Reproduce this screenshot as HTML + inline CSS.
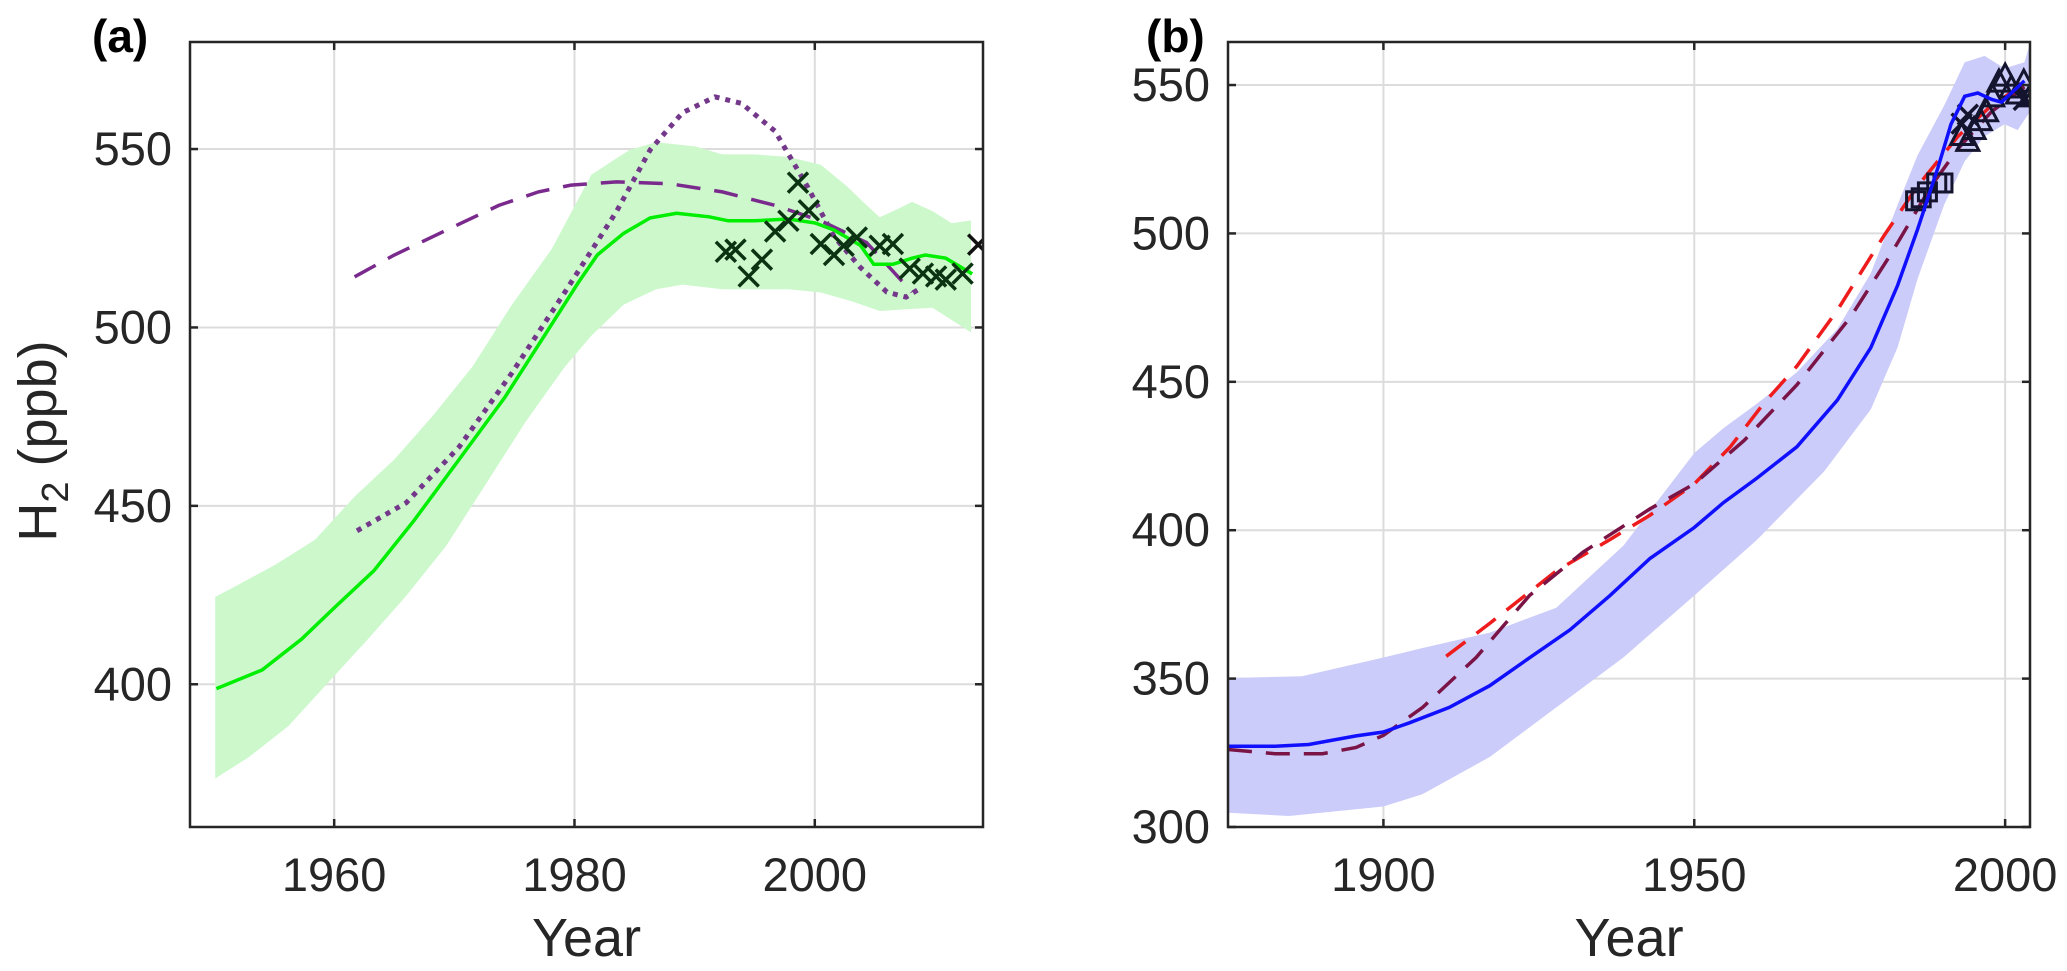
<!DOCTYPE html>
<html><head><meta charset="utf-8"><style>
body{margin:0;background:#fff;}
svg{display:block;font-family:"Liberation Sans",Arial,sans-serif;}
</style></head><body>
<svg id="chart" width="2067" height="971" viewBox="0 0 2067 971" xmlns="http://www.w3.org/2000/svg"></svg>
<script>
// ---------- Panel (a) data ----------
const aTicksX = [1960, 1980, 2000];
const aTicksY = [400, 450, 500, 550];
const aLineYears = [1950.2,1954,1957.3,1960,1963.3,1966.6,1970.4,1974.2,1977.5,1980.3,1981.9,1984.1,1986.3,1988.5,1991.2,1992.8,1995,1997.8,2000,2001.6,2003.8,2004.9,2006.5,2008.1,2009.2,2010.9,2013.1];
const aLineVals = [398.8,404,412.7,421.4,431.8,445.7,463,480.4,497.7,512.5,520.3,526.4,530.7,532,531,529.9,529.9,530.4,529.3,527.3,523,517.7,517.7,519.4,520.3,519.4,515];
const aUpYears = [1950.1,1951.8,1955.1,1958.4,1961.7,1965,1968.2,1971.5,1974.8,1978.1,1981.4,1984.6,1986.8,1990.1,1992.3,1995,1997.8,2000.5,2002.7,2004.3,2005.4,2007.1,2008.1,2009.8,2011.4,2013];
const aUpVals = [424.5,427.5,433.5,440.5,452.6,463,475.2,489,506.4,522,542.8,549.8,551.9,550.7,548.5,548.5,547.8,545.6,539.5,534.3,530.9,533.5,535.2,532.6,529.2,530];
const aLoYears = [1950.1,1952.9,1956.2,1959.5,1962.8,1966,1969.3,1972.6,1975.9,1979.2,1981.4,1984.1,1986.8,1989,1992.3,1997.8,2000.5,2003.2,2005.4,2007.6,2009.8,2013];
const aLoVals = [373.6,379.6,388.3,400.5,412.6,424.8,438.7,456,473.4,489,497.7,506.4,510.7,512,510.7,510.7,509.8,507.2,504.6,505.1,505.5,498.6];
const aDashYears = [1961.7,1965,1969.3,1973.7,1977,1979.7,1983.5,1987.9,1992.3,1996.7,2000.5,2004.3,2008.1];
const aDashVals = [514.2,520.3,527.2,534.2,538,539.9,540.8,540.3,538,534.2,529.9,523.8,509.9];
const aDotYears = [1961.9,1966,1970.4,1974.8,1979.2,1983.5,1986.3,1989,1991.7,1993.9,1996.7,1999.4,2001.6,2003.8,2006,2007.6,2008.7];
const aDotVals = [443,450.9,466.5,487.3,509.9,532.5,549.8,560.2,564.6,562.8,555,539.4,525.5,516.8,509.9,508.5,510.8];
const aObsYears = [1992.6,1993.4,1994.5,1995.6,1996.7,1997.8,1998.6,1999.5,2000.5,2001.6,2002.4,2003.5,2005.4,2006.5,2007.9,2009,2010.1,2010.9,2012.3,2013.6];
const aObsVals = [521.2,521.8,514.3,519,526.9,529.9,540.6,532.8,523.4,520.3,522.9,525.2,522.9,523.4,516.5,515.1,514.3,513.4,515.1,523.2];

// ---------- Panel (b) data ----------
const bTicksX = [1900, 1950, 2000];
const bTicksY = [300, 350, 400, 450, 500, 550];
const bLineYears = [1875,1882.6,1888,1895.6,1900,1904.2,1910.6,1917.1,1923.5,1930,1936.4,1942.9,1950,1954.7,1960.1,1966.5,1973,1978.4,1982.7,1985.9,1989.2,1991.3,1993.5,1995.6,1997.8,1999.4,2001,2003.1];
const bLineVals = [327.2,327.2,327.8,330.7,332,335.1,340.3,347.6,357,366.4,377.9,390.5,400.9,409.3,417.6,428.1,443.8,461.5,482.5,501.3,522.2,536.8,546.2,547.3,545.2,544.2,547.3,551.4];
const bUpYears = [1875,1886.9,1900,1906.3,1917.1,1927.8,1938.6,1950,1954.7,1960.1,1966.5,1973,1978.4,1982.7,1985.9,1990.2,1993.5,1996.7,1999.9,2003.1,2004];
const bUpVals = [350.2,350.8,357.1,360.3,365.5,373.9,394.8,426,434.4,442.7,453.2,467.8,486.6,509.6,526.3,543.1,557.7,559.8,555.6,557.7,564];
const bLoYears = [1875,1884.8,1900,1906.3,1917.1,1927.8,1938.6,1950,1960.1,1970.9,1978.4,1982.7,1985.9,1990.2,1993.5,1996.7,1999.9,2002,2004];
const bLoVals = [304.8,303.7,306.9,311.1,323.6,340.3,357.1,378,396.8,419.8,440.7,461.6,484.6,509.7,524.3,532.7,536.8,534.8,541];
const bRedYears = [1910.1,1917.1,1927.8,1936.4,1942.9,1950,1955.8,1961.2,1966.5,1973,1980.5,1985.9,1992.4,1997.8,2003.1];
const bRedVals = [357.5,368.6,386.3,396.8,405.1,415.6,428.1,442.8,455.3,474.1,499.2,515.9,532.7,543.1,550.4];
const bMarYears = [1875,1882.6,1890.2,1895.6,1900,1906.3,1914.9,1923.5,1932.1,1942.9,1950,1958,1966.5,1975.2,1981.6,1988.1,1992.4,1997.8,2003.1];
const bMarVals = [326.1,324.7,324.7,326.8,330.9,340.3,357.1,378,392.6,407.2,415.6,430.2,449,472,492.9,515.9,528.5,541,549.4];
const bSqYears = [1985.6,1986.5,1987.5,1989,1990];
const bSqVals = [511,512,514,517,517];
const bTriYears = [1993,1994,1995,1996,1997,1998,1999,2000,2001,2002,2003,2004];
const bTriVals = [533,531,535,538,541,546,551,553,549,547,551,546];
const bXYears = [1993,1994,2003];
const bXVals = [537,540,545];

const NS = "http://www.w3.org/2000/svg";
const svg = document.getElementById('chart');
function mk(tag, attrs, parent){const e=document.createElementNS(NS,tag);for(const k in attrs)e.setAttribute(k,attrs[k]);(parent||svg).appendChild(e);return e;}

function makeAxes(x0,x1,y0,y1,xmin,xmax,ymin,ymax){
  return {sx:v=>x0+(v-xmin)/(xmax-xmin)*(x1-x0), sy:v=>y1-(v-ymin)/(ymax-ymin)*(y1-y0), x0,x1,y0,y1};
}
function pathOf(ax,xs,ys){return xs.map((x,i)=>(i?'L':'M')+ax.sx(x).toFixed(1)+' '+ax.sy(ys[i]).toFixed(1)).join(' ');}
function bandOf(ax,ux,uy,lx,ly){
  let d=pathOf(ax,ux,uy);
  for(let i=lx.length-1;i>=0;i--) d+=' L'+ax.sx(lx[i]).toFixed(1)+' '+ax.sy(ly[i]).toFixed(1);
  return d+' Z';
}
function frame(ax,g,ticksX,ticksY,prefix){
  ticksX.forEach(t=>{
    const gl=mk('line',{x1:ax.sx(t),x2:ax.sx(t),y1:ax.y0,y2:ax.y1,stroke:'#dcdcdc','stroke-width':2},g);
    
    
  });
  ticksY.forEach(t=>{
    const gl=mk('line',{x1:ax.x0,x2:ax.x1,y1:ax.sy(t),y2:ax.sy(t),stroke:'#dcdcdc','stroke-width':2},g);
    
    
  });
}
function box(ax,g,ticksX,ticksY,prefix){
  const r=mk('rect',{x:ax.x0,y:ax.y0,width:ax.x1-ax.x0,height:ax.y1-ax.y0,fill:'none',stroke:'#262626','stroke-width':2.5},g);
  
  
  ticksX.forEach(t=>{
    const x=ax.sx(t);
    mk('line',{x1:x,x2:x,y1:ax.y1,y2:ax.y1-8,stroke:'#262626','stroke-width':2.5},g);
    mk('line',{x1:x,x2:x,y1:ax.y0,y2:ax.y0+8,stroke:'#262626','stroke-width':2.5},g);
    const tl=mk('text',{x:x,y:891,'text-anchor':'middle','font-size':47,fill:'#262626'},g);
    tl.textContent=t;
    
    
  });
  ticksY.forEach(t=>{
    const y=ax.sy(t);
    mk('line',{x1:ax.x0,x2:ax.x0+8,y1:y,y2:y,stroke:'#262626','stroke-width':2.5},g);
    mk('line',{x1:ax.x1,x2:ax.x1-8,y1:y,y2:y,stroke:'#262626','stroke-width':2.5},g);
    const tl=mk('text',{x:ax.x0-18,y:y+16,'text-anchor':'end','font-size':47,fill:'#262626'},g);
    tl.textContent=t;
    
    
  });
  const xl=mk('text',{x:(ax.x0+ax.x1)/2,y:956,'text-anchor':'middle','font-size':54,fill:'#262626'},g);
  xl.textContent='Year';
  
  
}
function xMark(ax,g,x,y,col,r,name){
  const cx=ax.sx(x),cy=ax.sy(y);
  const p=mk('path',{d:`M${cx-r} ${cy-r}L${cx+r} ${cy+r}M${cx-r} ${cy+r}L${cx+r} ${cy-r}`,stroke:col,'stroke-width':3.5,fill:'none'},g);
  
  
}

// ===== Panel (a) =====
const A = makeAxes(190,983,42,827,1948,2014,360,580);
const ga = mk('g',{});


const clipA = mk('clipPath',{id:'clipA'});
mk('rect',{x:A.x0,y:A.y0,width:A.x1-A.x0,height:A.y1-A.y0},clipA);
frame(A,ga,aTicksX,aTicksY,'a');
const pa = mk('g',{'clip-path':'url(#clipA)'},ga);
const bandA = mk('path',{d:bandOf(A,aUpYears,aUpVals,aLoYears,aLoVals),fill:'#ccf8cc',stroke:'none'},pa);


const dashA = mk('path',{d:pathOf(A,aDashYears,aDashVals),fill:'none',stroke:'#7a2a8c','stroke-width':3.5,'stroke-dasharray':'24 14'},pa);


const dotA = mk('path',{d:pathOf(A,aDotYears,aDotVals),fill:'none',stroke:'#73388a','stroke-width':5,'stroke-dasharray':'5 6'},pa);


const lineA = mk('path',{d:pathOf(A,aLineYears,aLineVals),fill:'none',stroke:'#00ee00','stroke-width':3.5},pa);


const obsA = mk('g',{},pa);


aObsYears.forEach((yr,i)=>xMark(A,obsA,yr,aObsVals[i],i===aObsYears.length-1?'#111':'#0b3312',10,'a-obs-marker'));
box(A,ga,aTicksX,aTicksY,'a');
const la = mk('text',{x:92,y:52,'font-size':46,'font-weight':'bold',fill:'#000'},ga);
la.textContent='(a)';


const yl = mk('text',{transform:'translate(56,441) rotate(-90)','text-anchor':'middle','font-size':54,fill:'#262626'},ga);
yl.innerHTML='H<tspan font-size="38" dy="12">2</tspan><tspan dy="-12"> (ppb)</tspan>';



// ===== Panel (b) =====
const B = makeAxes(1228,2030,42,827,1875,2004,300,564.5);
const gb = mk('g',{});


const clipB = mk('clipPath',{id:'clipB'});
mk('rect',{x:B.x0,y:B.y0,width:B.x1-B.x0,height:B.y1-B.y0},clipB);
frame(B,gb,bTicksX,bTicksY,'b');
const pb = mk('g',{'clip-path':'url(#clipB)'},gb);
const bandB = mk('path',{d:bandOf(B,bUpYears,bUpVals,bLoYears,bLoVals),fill:'#ccccfa',stroke:'none'},pb);


const redB = mk('path',{d:pathOf(B,bRedYears,bRedVals),fill:'none',stroke:'#ee1c1c','stroke-width':3.5,'stroke-dasharray':'24 14'},pb);


const marB = mk('path',{d:pathOf(B,bMarYears,bMarVals),fill:'none',stroke:'#7a1446','stroke-width':3.5,'stroke-dasharray':'24 14'},pb);


const markB = mk('g',{fill:'none',stroke:'#14142e','stroke-width':3},pb);


bSqYears.forEach((yr,i)=>{
  const s=mk('rect',{x:B.sx(yr)-9,y:B.sy(bSqVals[i])-9,width:18,height:18},markB);
  
  
});
bTriYears.forEach((yr,i)=>{
  const cx=B.sx(yr),cy=B.sy(bTriVals[i]);
  const t=mk('path',{d:`M${cx} ${cy-12}L${cx+11} ${cy+9}L${cx-11} ${cy+9}Z`},markB);
  
  
});
bXYears.forEach((yr,i)=>xMark(B,markB,yr,bXVals[i],'#14142e',10,'b-x-marker'));
const lineB = mk('path',{d:pathOf(B,bLineYears,bLineVals),fill:'none',stroke:'#1010ff','stroke-width':3.5},pb);


box(B,gb,bTicksX,bTicksY,'b');
const lb = mk('text',{x:1146,y:52,'font-size':46,'font-weight':'bold',fill:'#000'},gb);
lb.textContent='(b)';


</script>
</body></html>
